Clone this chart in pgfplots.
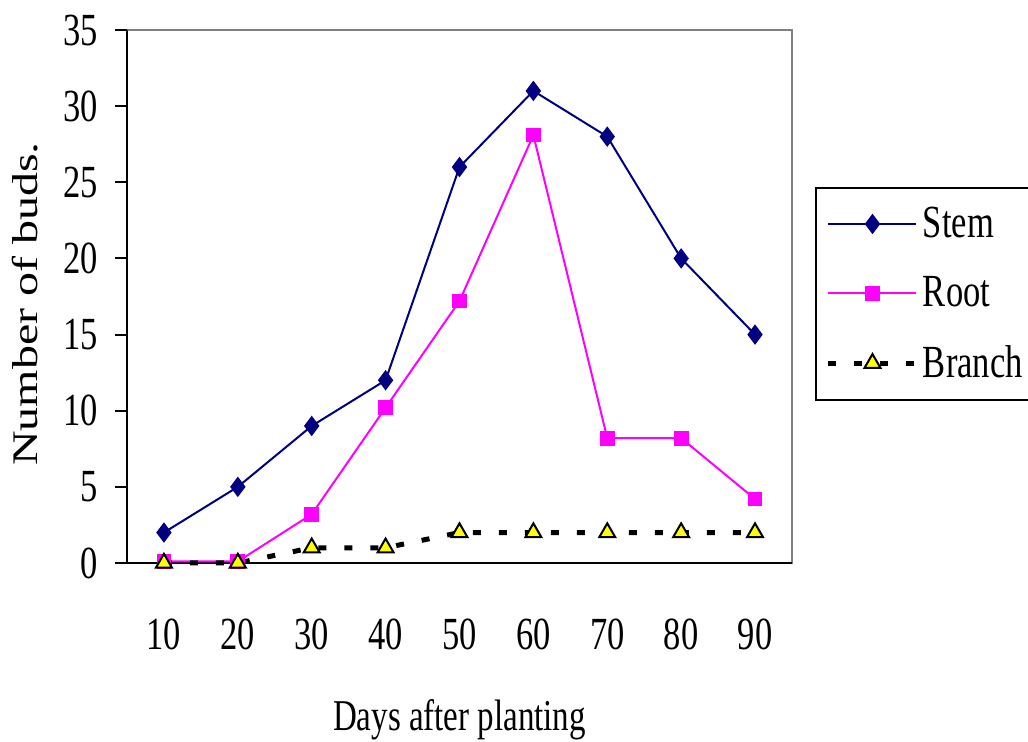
\documentclass[border=0pt]{standalone}
\usepackage{pgfplots}
\pgfplotsset{compat=1.18}
\usepackage{fontspec}
\setmainfont{Liberation Serif}[FakeStretch=0.75]
\newfontfamily\plainserif{Liberation Serif}
\definecolor{stemc}{RGB}{0,0,128}
\definecolor{rootc}{RGB}{255,0,255}
\definecolor{branchc}{RGB}{255,255,0}
\begin{document}
\begin{tikzpicture}
\path[use as bounding box] (-63.5pt,-89.5pt) rectangle (450.5pt,281.5pt);
\begin{axis}[
  at={(0pt,0pt)}, anchor=south west,
  scale only axis, width=332.5pt, height=266.5pt,
  xmin=-0.5, xmax=8.5, ymin=0, ymax=35,
  clip=false,
  axis background/.style={draw=gray, line width=1pt},
  axis x line*=bottom, axis y line*=left,
  axis line style={black, line width=1pt, -},
  tick align=outside,
  major tick length=6pt, minor tick length=8pt,
  every tick/.style={black, line width=1pt},
  ytick={0,5,...,35},
  xtick={0,...,8},
  xticklabels={10,20,30,40,50,60,70,80,90},
  xtick style={draw=none},
  minor xtick={-0.5,0.5,...,8.5},
  /pgf/number format/assume math mode=true,
  tick label style={font=\fontsize{23}{27}\selectfont},
  xticklabel style={anchor=center, yshift=-29.5pt},
  yticklabel style={anchor=east, xshift=-5pt},
  xlabel={Days after planting},
  ylabel={\scalebox{1}[0.75]{\plainserif\fontsize{24}{28}\selectfont Number of buds.}},
  every axis x label/.style={at={(axis description cs:0.5,-0.295)}, anchor=center, font=\fontsize{22}{27}\selectfont},
  every axis y label/.style={at={(axis description cs:-0.153,0.486)}, rotate=90, anchor=center},
  legend style={
    at={(1.0346,0.705)}, anchor=north west,
    draw=black, line width=1pt,
    font=\fontsize{23}{27}\selectfont,
    inner xsep=5pt, inner ysep=7.5pt,
    row sep=14pt,
    /tikz/every even column/.append style={column sep=3pt},
    cells={anchor=west},
  },
  legend image code/.code={\draw[mark repeat=2,mark phase=2,#1] plot coordinates {(0pt,0pt) (22pt,0pt) (44pt,0pt)};},
]
\addplot[stemc, line width=1pt, mark=diamond*, mark size=4.3pt, mark options={solid, fill=stemc}]
  coordinates {(0,2) (1,5) (2,9) (3,12) (4,26) (5,31) (6,28) (7,20) (8,15)};
\addlegendentry{Stem}
\addplot[rootc, line width=1pt, mark=square*, mark size=3.2pt, mark options={solid, fill=rootc}]
  coordinates {(0,0.1) (1,0.1) (2,3.2) (3,10.2) (4,17.2) (5,28.1) (6,8.2) (7,8.2) (8,4.2)};
\addlegendentry{Root}
\addplot[black, line width=2.5pt, dash pattern=on 4pt off 9pt, mark=triangle*, mark size=4.6pt,
  mark options={solid, draw=black, fill=branchc, line width=1pt}]
  coordinates {(0,0) (1,0) (2,1) (3,1) (4,2) (5,2) (6,2) (7,2) (8,2)};
\addlegendentry{Branch}
\end{axis}
\end{tikzpicture}
\end{document}
